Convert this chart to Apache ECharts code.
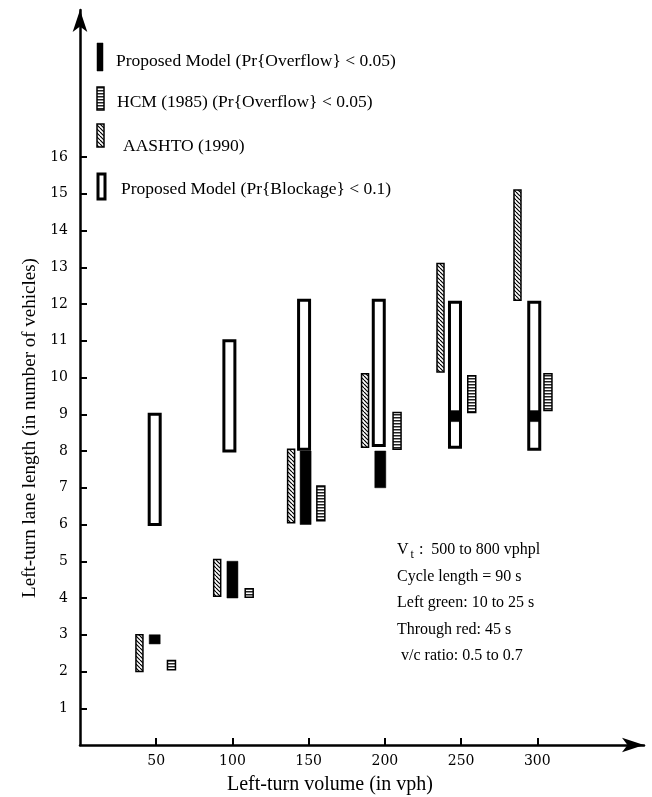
<!DOCTYPE html>
<html>
<head>
<meta charset="utf-8">
<script src="https://cdn.jsdelivr.net/npm/echarts@6/dist/echarts.min.js"></script>
<style>
html, body { margin: 0; background: #fff; }
#chart { width: 652px; height: 797px; }
</style>
</head>
<body>
<div id="chart"></div>
<script>
// tick labels
const xTicks = [50, 100, 150, 200, 250, 300];
const yTicks = [1, 2, 3, 4, 5, 6, 7, 8, 9, 10, 11, 12, 13, 14, 15, 16];

// Proposed Model (Pr{Blockage} < 0.1)
const blockX = [49, 98, 147, 196, 246, 298];
const blockLow = [6, 8, 8.05, 8.15, 8.1, 8.05];
const blockHigh = [9, 11, 12.1, 12.1, 12.05, 12.05];
// Proposed Model (Pr{Overflow} < 0.05)
const overflowX = [49, 100, 148, 197, 246, 298];
const overflowLow = [2.75, 4, 6, 7, 8.8, 8.8];
const overflowHigh = [3, 5, 8, 8, 9.1, 9.1];
// HCM (1985)
const hcmX = [60, 111, 158, 208, 257, 307];
const hcmLow = [2.05, 4.02, 6.1, 8.05, 9.05, 9.1];
const hcmHigh = [2.3, 4.25, 7.05, 9.05, 10.05, 10.1];
// AASHTO (1990)
const aashtoX = [39, 90, 138.5, 187, 236.5, 287];
const aashtoLow = [2, 4.05, 6.05, 8.1, 10.15, 12.1];
const aashtoHigh = [3, 5.05, 8.05, 10.1, 13.1, 15.1];

const serif = '"Liberation Serif", "Times New Roman", serif';

function hatchPattern() {
    const c = document.createElement('canvas');
    c.width = 4; c.height = 4;
    const ctx = c.getContext('2d');
    ctx.fillStyle = '#fff';
    ctx.fillRect(0, 0, 4, 4);
    ctx.strokeStyle = '#000';
    ctx.lineWidth = 1.2;
    [-4, 0, 4].forEach(function (k) {
        ctx.beginPath();
        ctx.moveTo(k, 0);
        ctx.lineTo(k + 4, 4);
        ctx.stroke();
    });
    return { image: c, repeat: 'repeat' };
}

function stripePattern() {
    const c = document.createElement('canvas');
    c.width = 4; c.height = 3;
    const ctx = c.getContext('2d');
    ctx.fillStyle = '#fff';
    ctx.fillRect(0, 0, 4, 3);
    ctx.fillStyle = '#222';
    ctx.fillRect(0, 0, 4, 1.5);
    return { image: c, repeat: 'repeat' };
}

const styles = {
    block: { fill: '#fff', stroke: '#000', lineWidth: 3 },
    overflow: { fill: '#000', stroke: '#000', lineWidth: 0.5 },
    hcm: { fill: stripePattern(), stroke: '#000', lineWidth: 1.5 },
    aashto: { fill: hatchPattern(), stroke: '#000', lineWidth: 1.5 }
};

function rangeBars(width, style) {
    return function (params, api) {
        const top = api.coord([api.value(0), api.value(2)]);
        const bot = api.coord([api.value(0), api.value(1)]);
        return {
            type: 'rect',
            shape: { x: top[0] - width / 2, y: top[1], width: width, height: bot[1] - top[1] },
            style: style
        };
    };
}

function rows(xs, lows, highs) {
    return xs.map(function (x, i) { return [x, lows[i], highs[i]]; });
}

function legendItem(x, y, w, h, style, label, tx, ty) {
    return [
        { type: 'rect', shape: { x: x, y: y, width: w, height: h }, style: style },
        { type: 'text', x: tx, y: ty, style: { text: label, font: '17.5px ' + serif, fill: '#000', textVerticalAlign: 'middle' } }
    ];
}

const notes = [
    '{v|V}{s|t}{v| :  500 to 800 vphpl}',
    'Cycle length = 90 s',
    'Left green: 10 to 25 s',
    'Through red: 45 s',
    ' v/c ratio: 0.5 to 0.7'
];

const myChart = echarts.init(document.getElementById('chart'), null, { renderer: 'canvas' });

const graphics = [].concat(
    legendItem(97, 43, 6, 28, styles.overflow, 'Proposed Model (Pr{Overflow} < 0.05)', 116, 61),
    legendItem(97, 87, 7, 23, styles.hcm, 'HCM (1985) (Pr{Overflow} < 0.05)', 117, 102),
    legendItem(97, 124, 7, 23, styles.aashto, 'AASHTO (1990)', 123, 146),
    legendItem(98, 174, 7, 25, styles.block, 'Proposed Model (Pr{Blockage} < 0.1)', 121, 189),
    notes.map(function (t, i) {
        return {
            type: 'text', x: 397, y: 550 + i * 26.5,
            style: {
                text: t, font: '16px ' + serif, fill: '#000', textVerticalAlign: 'middle',
                rich: {
                    v: { fontSize: 16, fontFamily: serif },
                    s: { fontSize: 12, fontFamily: serif, padding: [9, 1, 0, 2] }
                }
            }
        };
    }),
    [
        { type: 'text', x: 330, y: 785, style: { text: 'Left-turn volume (in vph)', font: '20px ' + serif, fill: '#000', textAlign: 'center', textVerticalAlign: 'middle' } },
        { type: 'text', x: 30, y: 428, rotation: Math.PI / 2, style: { text: 'Left-turn lane length (in number of vehicles)', font: '19px ' + serif, fill: '#000', textAlign: 'center', textVerticalAlign: 'middle' } }
    ]
);

myChart.setOption({
    backgroundColor: '#fff',
    animation: false,
    grid: { left: 80, right: 8, top: 10, bottom: 52 },
    xAxis: {
        type: 'value', min: 0, max: 370,
        axisLine: { lineStyle: { color: '#000', width: 2.5 }, symbol: ['none', 'arrow'], symbolSize: [11, 22] },
        axisTick: { customValues: xTicks, inside: true, length: 7, lineStyle: { color: '#000', width: 2 } },
        axisLabel: { customValues: xTicks, color: '#000', fontFamily: '"DejaVu Serif", serif', fontSize: 14, margin: 9 },
        splitLine: { show: false }
    },
    yAxis: {
        type: 'value', min: 0, max: 20,
        axisLine: { show: true, lineStyle: { color: '#000', width: 2.5 }, symbol: ['none', 'arrow'], symbolSize: [11, 22] },
        axisTick: { show: true, customValues: yTicks, inside: true, length: 7, lineStyle: { color: '#000', width: 2 } },
        axisLabel: { customValues: yTicks, color: '#000', fontFamily: '"DejaVu Serif", serif', fontSize: 14, margin: 12 },
        splitLine: { show: false }
    },
    series: [
        { type: 'custom', name: 'Proposed Model (Pr{Blockage} < 0.1)', renderItem: rangeBars(11, styles.block), data: rows(blockX, blockLow, blockHigh) },
        { type: 'custom', name: 'Proposed Model (Pr{Overflow} < 0.05)', renderItem: rangeBars(11, styles.overflow), data: rows(overflowX, overflowLow, overflowHigh) },
        { type: 'custom', name: 'HCM (1985) (Pr{Overflow} < 0.05)', renderItem: rangeBars(8, styles.hcm), data: rows(hcmX, hcmLow, hcmHigh) },
        { type: 'custom', name: 'AASHTO (1990)', renderItem: rangeBars(7, styles.aashto), data: rows(aashtoX, aashtoLow, aashtoHigh) }
    ],
    graphic: graphics
});
</script>
</body>
</html>
